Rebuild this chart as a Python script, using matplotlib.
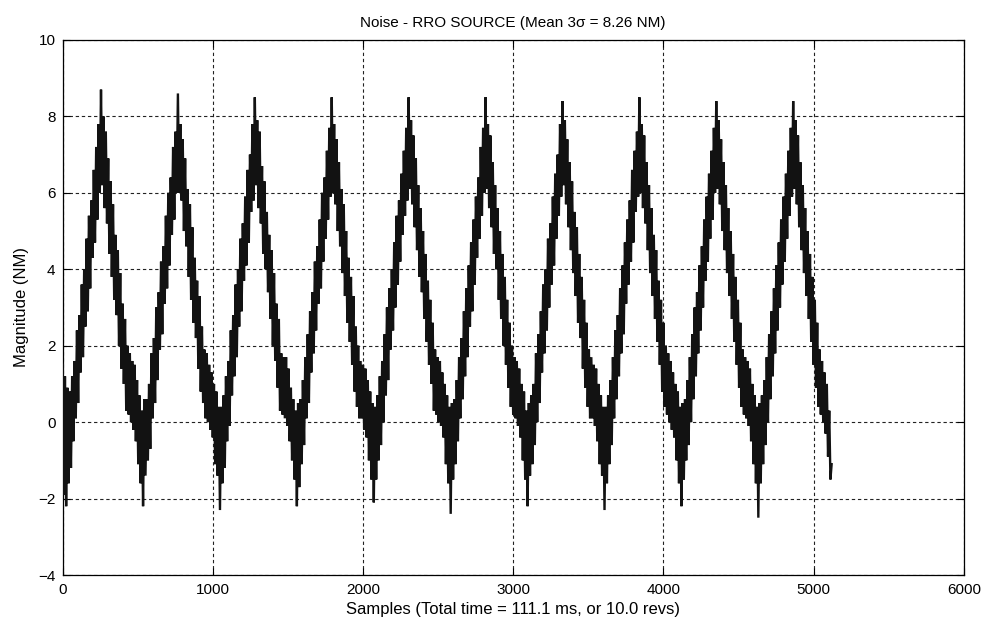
import numpy as np
import matplotlib
matplotlib.use("Agg")
import matplotlib.pyplot as plt

# Magnitude (NM), one row per revolution (512 samples),
# one value every 8 samples, alternating upper / lower edge of the noisy band.
rev0 = [1.5, -1.9, 1.2, -2.2, 0.9, -1.6, 0.8, -1.2, 1.2, -0.5, 1.6, 0.1, 2.4, 0.5, 2.8, 1.3, 3.6, 1.7, 4.0, 2.5, 4.8, 2.9, 5.4, 3.5, 5.8, 4.3, 6.6, 4.7, 7.2, 5.3, 7.8, 6.0, 8.7, 6.2, 8.0, 5.6, 7.6, 5.2, 6.9, 4.4, 6.3, 3.8, 5.7, 3.2, 4.9, 2.8, 4.5, 2.0, 3.9, 1.4, 3.1, 1.0, 2.7, 0.3, 2.0, 0.2, 1.8, 0.0, 1.6, -0.2, 1.5, -0.5, 1.1, -1.1]
rev1 = [0.7, -1.6, 0.3, -2.2, 0.6, -1.4, 0.6, -1.0, 1.0, -0.7, 1.8, 0.1, 2.2, 0.5, 3.0, 1.1, 3.4, 1.9, 4.2, 2.3, 4.6, 3.1, 5.4, 3.5, 6.0, 4.1, 6.4, 4.9, 7.2, 5.3, 7.6, 6.0, 8.6, 6.0, 7.8, 5.8, 7.4, 5.0, 6.9, 4.6, 6.1, 3.8, 5.7, 3.2, 5.1, 2.6, 4.3, 2.2, 3.7, 1.4, 3.3, 0.8, 2.5, 0.5, 1.9, 0.1, 1.8, 0.0, 1.5, -0.2, 1.3, -0.4, 1.0, -1.1]
rev2 = [0.8, -1.4, 0.4, -2.3, 0.4, -1.6, 0.7, -1.2, 1.2, -0.5, 1.6, -0.1, 2.4, 0.7, 2.8, 1.2, 3.6, 1.7, 4.0, 2.5, 4.8, 2.9, 5.2, 3.7, 5.9, 4.1, 6.6, 4.7, 7.0, 5.5, 7.8, 5.8, 8.5, 6.2, 7.9, 5.6, 7.6, 5.2, 6.7, 4.4, 6.3, 4.0, 5.5, 3.4, 4.9, 2.7, 4.5, 2.0, 3.9, 1.6, 3.1, 0.9, 2.7, 0.3, 1.8, 0.2, 1.7, 0.1, 1.7, -0.1, 1.4, -0.5, 0.9, -1.0]
rev3 = [0.6, -1.5, 0.3, -2.2, 0.5, -1.7, 0.6, -1.1, 1.1, -0.6, 1.7, 0.1, 2.3, 0.5, 2.9, 1.3, 3.4, 1.8, 4.2, 2.4, 4.6, 3.1, 5.3, 3.5, 6.0, 4.2, 6.4, 4.8, 7.1, 5.3, 7.7, 5.9, 8.5, 6.0, 7.8, 5.7, 7.4, 5.0, 6.8, 4.6, 6.1, 3.9, 5.7, 3.3, 5.0, 2.6, 4.3, 2.1, 3.8, 1.5, 3.3, 0.8, 2.5, 0.4, 2.0, 0.1, 1.6, 0.1, 1.5, -0.2, 1.4, -0.4, 1.1, -1.0]
rev4 = [0.8, -1.5, 0.5, -2.1, 0.4, -1.5, 0.7, -1.0, 1.2, -0.6, 1.6, 0.0, 2.3, 0.7, 3.0, 1.1, 3.5, 1.9, 4.0, 2.4, 4.7, 3.0, 5.4, 3.6, 5.8, 4.2, 6.5, 4.9, 7.1, 5.4, 7.7, 5.8, 8.5, 6.1, 7.9, 5.7, 7.5, 5.1, 6.9, 4.5, 6.2, 3.8, 5.6, 3.4, 5.0, 2.7, 4.4, 2.1, 3.7, 1.5, 3.2, 1.0, 2.6, 0.3, 1.9, 0.2, 1.7, 0.0, 1.6, -0.1, 1.3, -0.4, 1.0, -1.1]
rev5 = [0.7, -1.6, 0.4, -2.4, 0.5, -1.5, 0.6, -1.1, 1.1, -0.5, 1.7, 0.1, 2.2, 0.6, 2.9, 1.2, 3.5, 1.7, 4.1, 2.5, 4.7, 2.9, 5.3, 3.6, 5.9, 4.3, 6.4, 4.8, 7.2, 5.4, 7.7, 6.0, 8.5, 6.1, 7.8, 5.6, 7.5, 5.1, 6.8, 4.4, 6.2, 4.0, 5.6, 3.2, 5.0, 2.7, 4.4, 2.0, 3.8, 1.5, 3.2, 0.9, 2.6, 0.4, 2.0, 0.2, 1.7, 0.1, 1.6, -0.1, 1.4, -0.4, 1.0, -1.0]
rev6 = [0.8, -1.5, 0.3, -2.2, 0.5, -1.4, 0.7, -1.1, 1.0, -0.6, 1.8, 0.0, 2.3, 0.5, 2.9, 1.3, 3.6, 1.8, 4.0, 2.4, 4.8, 3.0, 5.2, 3.6, 5.9, 4.1, 6.5, 4.8, 7.0, 5.4, 7.8, 5.9, 8.4, 6.2, 7.9, 5.7, 7.4, 5.1, 6.8, 4.5, 6.3, 3.9, 5.5, 3.3, 5.1, 2.6, 4.4, 2.2, 3.8, 1.4, 3.2, 0.9, 2.6, 0.4, 1.9, 0.1, 1.7, 0.1, 1.5, -0.1, 1.4, -0.5, 1.0, -1.1]
rev7 = [0.7, -1.4, 0.4, -2.3, 0.4, -1.6, 0.7, -1.1, 1.1, -0.6, 1.7, 0.1, 2.4, 0.6, 2.8, 1.2, 3.5, 1.8, 4.1, 2.3, 4.7, 3.1, 5.3, 3.6, 5.8, 4.2, 6.6, 4.7, 7.1, 5.5, 7.6, 5.9, 8.5, 6.0, 7.8, 5.6, 7.5, 5.2, 6.8, 4.5, 6.2, 3.9, 5.6, 3.3, 4.9, 2.7, 4.5, 2.1, 3.7, 1.5, 3.2, 0.8, 2.6, 0.4, 2.0, 0.2, 1.8, 0.0, 1.6, -0.2, 1.3, -0.4, 1.0, -1.0]
rev8 = [0.8, -1.6, 0.4, -2.2, 0.5, -1.5, 0.6, -1.0, 1.1, -0.6, 1.7, 0.0, 2.3, 0.6, 3.0, 1.2, 3.4, 1.8, 4.1, 2.4, 4.6, 3.0, 5.3, 3.7, 5.9, 4.2, 6.5, 4.8, 7.1, 5.3, 7.7, 6.0, 8.4, 6.1, 7.9, 5.7, 7.4, 5.0, 6.8, 4.5, 6.2, 3.9, 5.6, 3.3, 5.0, 2.7, 4.4, 2.1, 3.8, 1.5, 3.2, 0.9, 2.6, 0.4, 1.9, 0.2, 1.7, 0.1, 1.6, -0.1, 1.4, -0.5, 1.0, -1.1]
rev9 = [0.7, -1.6, 0.4, -2.5, 0.5, -1.6, 0.7, -1.1, 1.1, -0.6, 1.7, 0.0, 2.3, 0.6, 2.9, 1.2, 3.5, 1.8, 4.1, 2.4, 4.7, 3.0, 5.3, 3.6, 5.9, 4.2, 6.5, 4.8, 7.1, 5.4, 7.7, 5.9, 8.4, 6.1, 7.9, 5.7, 7.5, 5.1, 6.8, 4.5, 6.2, 3.9, 5.6, 3.3, 5.0, 2.7, 4.4, 2.1, 3.8, 1.5, 3.2, 0.9, 2.6, 0.4, 1.9, 0.2, 1.6, 0.0, 1.3, -0.3, 1.0, -0.9, 0.3, -1.5, -1.1]

revs = [rev0, rev1, rev2, rev3, rev4, rev5, rev6, rev7, rev8, rev9]
sample_step = 8

x_ticks = [0, 1000, 2000, 3000, 4000, 5000, 6000]
y_ticks = [-4, -2, 0, 2, 4, 6, 8, 10]

title = "Noise - RRO SOURCE (Mean 3\u03c3 = 8.26 NM)"
xlabel = "Samples (Total time = 111.1 ms, or 10.0 revs)"
ylabel = "Magnitude (NM)"

magnitude = np.concatenate([np.asarray(r, dtype=float) for r in revs])
samples = np.arange(len(magnitude)) * sample_step

plt.rcParams['font.family'] = ['Liberation Sans', 'DejaVu Sans']

fig = plt.figure(figsize=(9.85, 6.24), dpi=100)
ax = fig.add_axes([0.0635, 0.0785, 0.915, 0.8575])

ax.plot(samples, magnitude, color='#121212', lw=1.7, zorder=3,
        solid_joinstyle='miter')

ax.set_xlim(0, 6000)
ax.set_ylim(-4, 10)
ax.set_xticks(x_ticks)
ax.set_yticks(y_ticks)
ax.tick_params(direction='in', length=5, width=0.8, top=True, right=True,
               labelsize=11, colors='black')
ax.tick_params(axis='x', pad=6)
ax.tick_params(axis='y', pad=5)
ax.grid(True, color='#222222', linestyle=(0, (3, 2.5)), linewidth=0.8)
for s in ax.spines.values():
    s.set_linewidth(0.9)
    s.set_color('black')

ax.set_title(title, fontsize=11, pad=9)
ax.set_xlabel(xlabel, fontsize=12, labelpad=3)
ax.set_ylabel(ylabel, fontsize=12, labelpad=7)

fig.savefig("out.png", dpi=100, facecolor='white')
